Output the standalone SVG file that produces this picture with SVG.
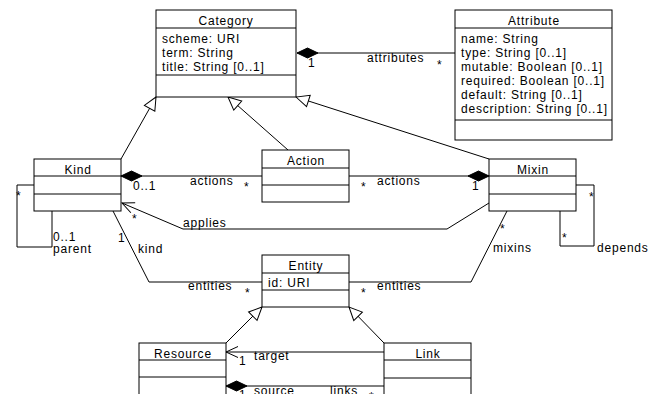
<svg xmlns="http://www.w3.org/2000/svg" width="659" height="394" viewBox="0 0 659 394">
<style>
text{font-family:"Liberation Sans",Arial,sans-serif;font-size:12px;letter-spacing:0.8px;fill:#000}
.t{text-anchor:middle}
.box{fill:#fff;stroke:#000;stroke-width:1}
.ln{fill:none;stroke:#000;stroke-width:1}
</style>
<defs>
<marker id="tri" markerUnits="userSpaceOnUse" orient="auto" overflow="visible" markerWidth="1" markerHeight="1" refX="0" refY="0"><path d="M0,0 L-13,-6 L-13,6 Z" fill="#fff" stroke="#000"/></marker>
<marker id="dia" markerUnits="userSpaceOnUse" orient="auto" overflow="visible" markerWidth="1" markerHeight="1" refX="0" refY="0"><path d="M0,0 L-10.5,-5 L-21,0 L-10.5,5 Z" fill="#000" stroke="#000"/></marker>
<marker id="open" markerUnits="userSpaceOnUse" orient="auto" overflow="visible" markerWidth="1" markerHeight="1" refX="0" refY="0"><path d="M-12,-5.5 L0,0 L-12,5.5" fill="none" stroke="#000"/></marker>
</defs>
<g id="connectors">
<line class="ln" x1="121" y1="159" x2="156" y2="97" marker-end="url(#tri)"/>
<line class="ln" x1="288" y1="150" x2="228" y2="97" marker-end="url(#tri)"/>
<line class="ln" x1="489" y1="159" x2="296" y2="97" marker-end="url(#tri)"/>
<line class="ln" x1="455" y1="53" x2="297" y2="53" marker-end="url(#dia)"/>
<line class="ln" x1="262" y1="176" x2="121" y2="176" marker-end="url(#dia)"/>
<line class="ln" x1="349" y1="176" x2="489" y2="176" marker-end="url(#dia)"/>
<polyline class="ln" points="489,203 447,229 183,229 122,203" marker-end="url(#open)"/>
<polyline class="ln" points="34,185 17,185 17,247 52,247 52,211"/>
<polyline class="ln" points="576,185 594,185 594,246 560,246 560,211"/>
<polyline class="ln" points="113,211 149,282 262,282"/>
<polyline class="ln" points="507,211 471,282 349,282"/>
<line class="ln" x1="226" y1="343" x2="262" y2="307" marker-end="url(#tri)"/>
<line class="ln" x1="384" y1="343" x2="349" y2="307" marker-end="url(#tri)"/>
<line class="ln" x1="384" y1="352" x2="226" y2="352" marker-end="url(#open)"/>
<line class="ln" x1="384" y1="386" x2="226" y2="386" marker-end="url(#dia)"/>
<text x="367" y="62">attributes</text>
<text x="308" y="67">1</text>
<text x="437" y="69">*</text>
<text x="133" y="190">0..1</text>
<text x="190" y="185">actions</text>
<text x="244" y="191">*</text>
<text x="361" y="191">*</text>
<text x="377" y="185">actions</text>
<text x="472" y="190">1</text>
<text x="183" y="227">applies</text>
<text x="132" y="223">*</text>
<text x="16" y="200">*</text>
<text x="53" y="241">0..1</text>
<text x="53" y="253">parent</text>
<text x="118" y="242">1</text>
<text x="138" y="253">kind</text>
<text x="188" y="290">entities</text>
<text x="245" y="297">*</text>
<text x="361" y="297">*</text>
<text x="377" y="290">entities</text>
<text x="500" y="233">*</text>
<text x="493" y="252">mixins</text>
<text x="589" y="201">*</text>
<text x="562" y="242">*</text>
<text x="597" y="252">depends</text>
<text x="239" y="365">1</text>
<text x="254" y="360">target</text>
<text x="239" y="399">1</text>
<text x="254" y="395">source</text>
<text x="330" y="395">links</text>
<text x="369" y="401">*</text>
</g>
<g id="Category">
<rect class="box" x="156" y="10" width="140" height="87"/>
<line class="ln" x1="156" y1="28" x2="296" y2="28"/>
<line class="ln" x1="156" y1="75" x2="296" y2="75"/>
<text class="t" x="226" y="25">Category</text>
<text x="162" y="43">scheme: URI</text>
<text x="162" y="57">term: String</text>
<text x="162" y="71">title: String [0..1]</text>
</g>
<g id="Attribute">
<rect class="box" x="455" y="10" width="157" height="130"/>
<line class="ln" x1="455" y1="28" x2="612" y2="28"/>
<line class="ln" x1="455" y1="120" x2="612" y2="120"/>
<text class="t" x="534" y="25">Attribute</text>
<text x="461" y="43">name: String</text>
<text x="461" y="57">type: String [0..1]</text>
<text x="461" y="71">mutable: Boolean [0..1]</text>
<text x="461" y="85">required: Boolean [0..1]</text>
<text x="461" y="99">default: String [0..1]</text>
<text x="461" y="113">description: String [0..1]</text>
</g>
<g id="Kind">
<rect class="box" x="34" y="159" width="87" height="52"/>
<line class="ln" x1="34" y1="176" x2="121" y2="176"/>
<line class="ln" x1="34" y1="194" x2="121" y2="194"/>
<text class="t" x="78" y="174">Kind</text>
</g>
<g id="Action">
<rect class="box" x="262" y="150" width="87" height="52"/>
<line class="ln" x1="262" y1="168" x2="349" y2="168"/>
<line class="ln" x1="262" y1="185" x2="349" y2="185"/>
<text class="t" x="306" y="165">Action</text>
</g>
<g id="Mixin">
<rect class="box" x="489" y="159" width="87" height="52"/>
<line class="ln" x1="489" y1="176" x2="576" y2="176"/>
<line class="ln" x1="489" y1="194" x2="576" y2="194"/>
<text class="t" x="533" y="174">Mixin</text>
</g>
<g id="Entity">
<rect class="box" x="262" y="255" width="87" height="52"/>
<line class="ln" x1="262" y1="273" x2="349" y2="273"/>
<line class="ln" x1="262" y1="290" x2="349" y2="290"/>
<text class="t" x="306" y="270">Entity</text>
<text x="268" y="287">id: URI</text>
</g>
<g id="Resource">
<rect class="box" x="139" y="343" width="87" height="53"/>
<line class="ln" x1="139" y1="360" x2="226" y2="360"/>
<line class="ln" x1="139" y1="377" x2="226" y2="377"/>
<text class="t" x="183" y="358">Resource</text>
</g>
<g id="Link">
<rect class="box" x="384" y="343" width="87" height="53"/>
<line class="ln" x1="384" y1="360" x2="471" y2="360"/>
<line class="ln" x1="384" y1="378" x2="471" y2="378"/>
<text class="t" x="428" y="358">Link</text>
</g>
</svg>
